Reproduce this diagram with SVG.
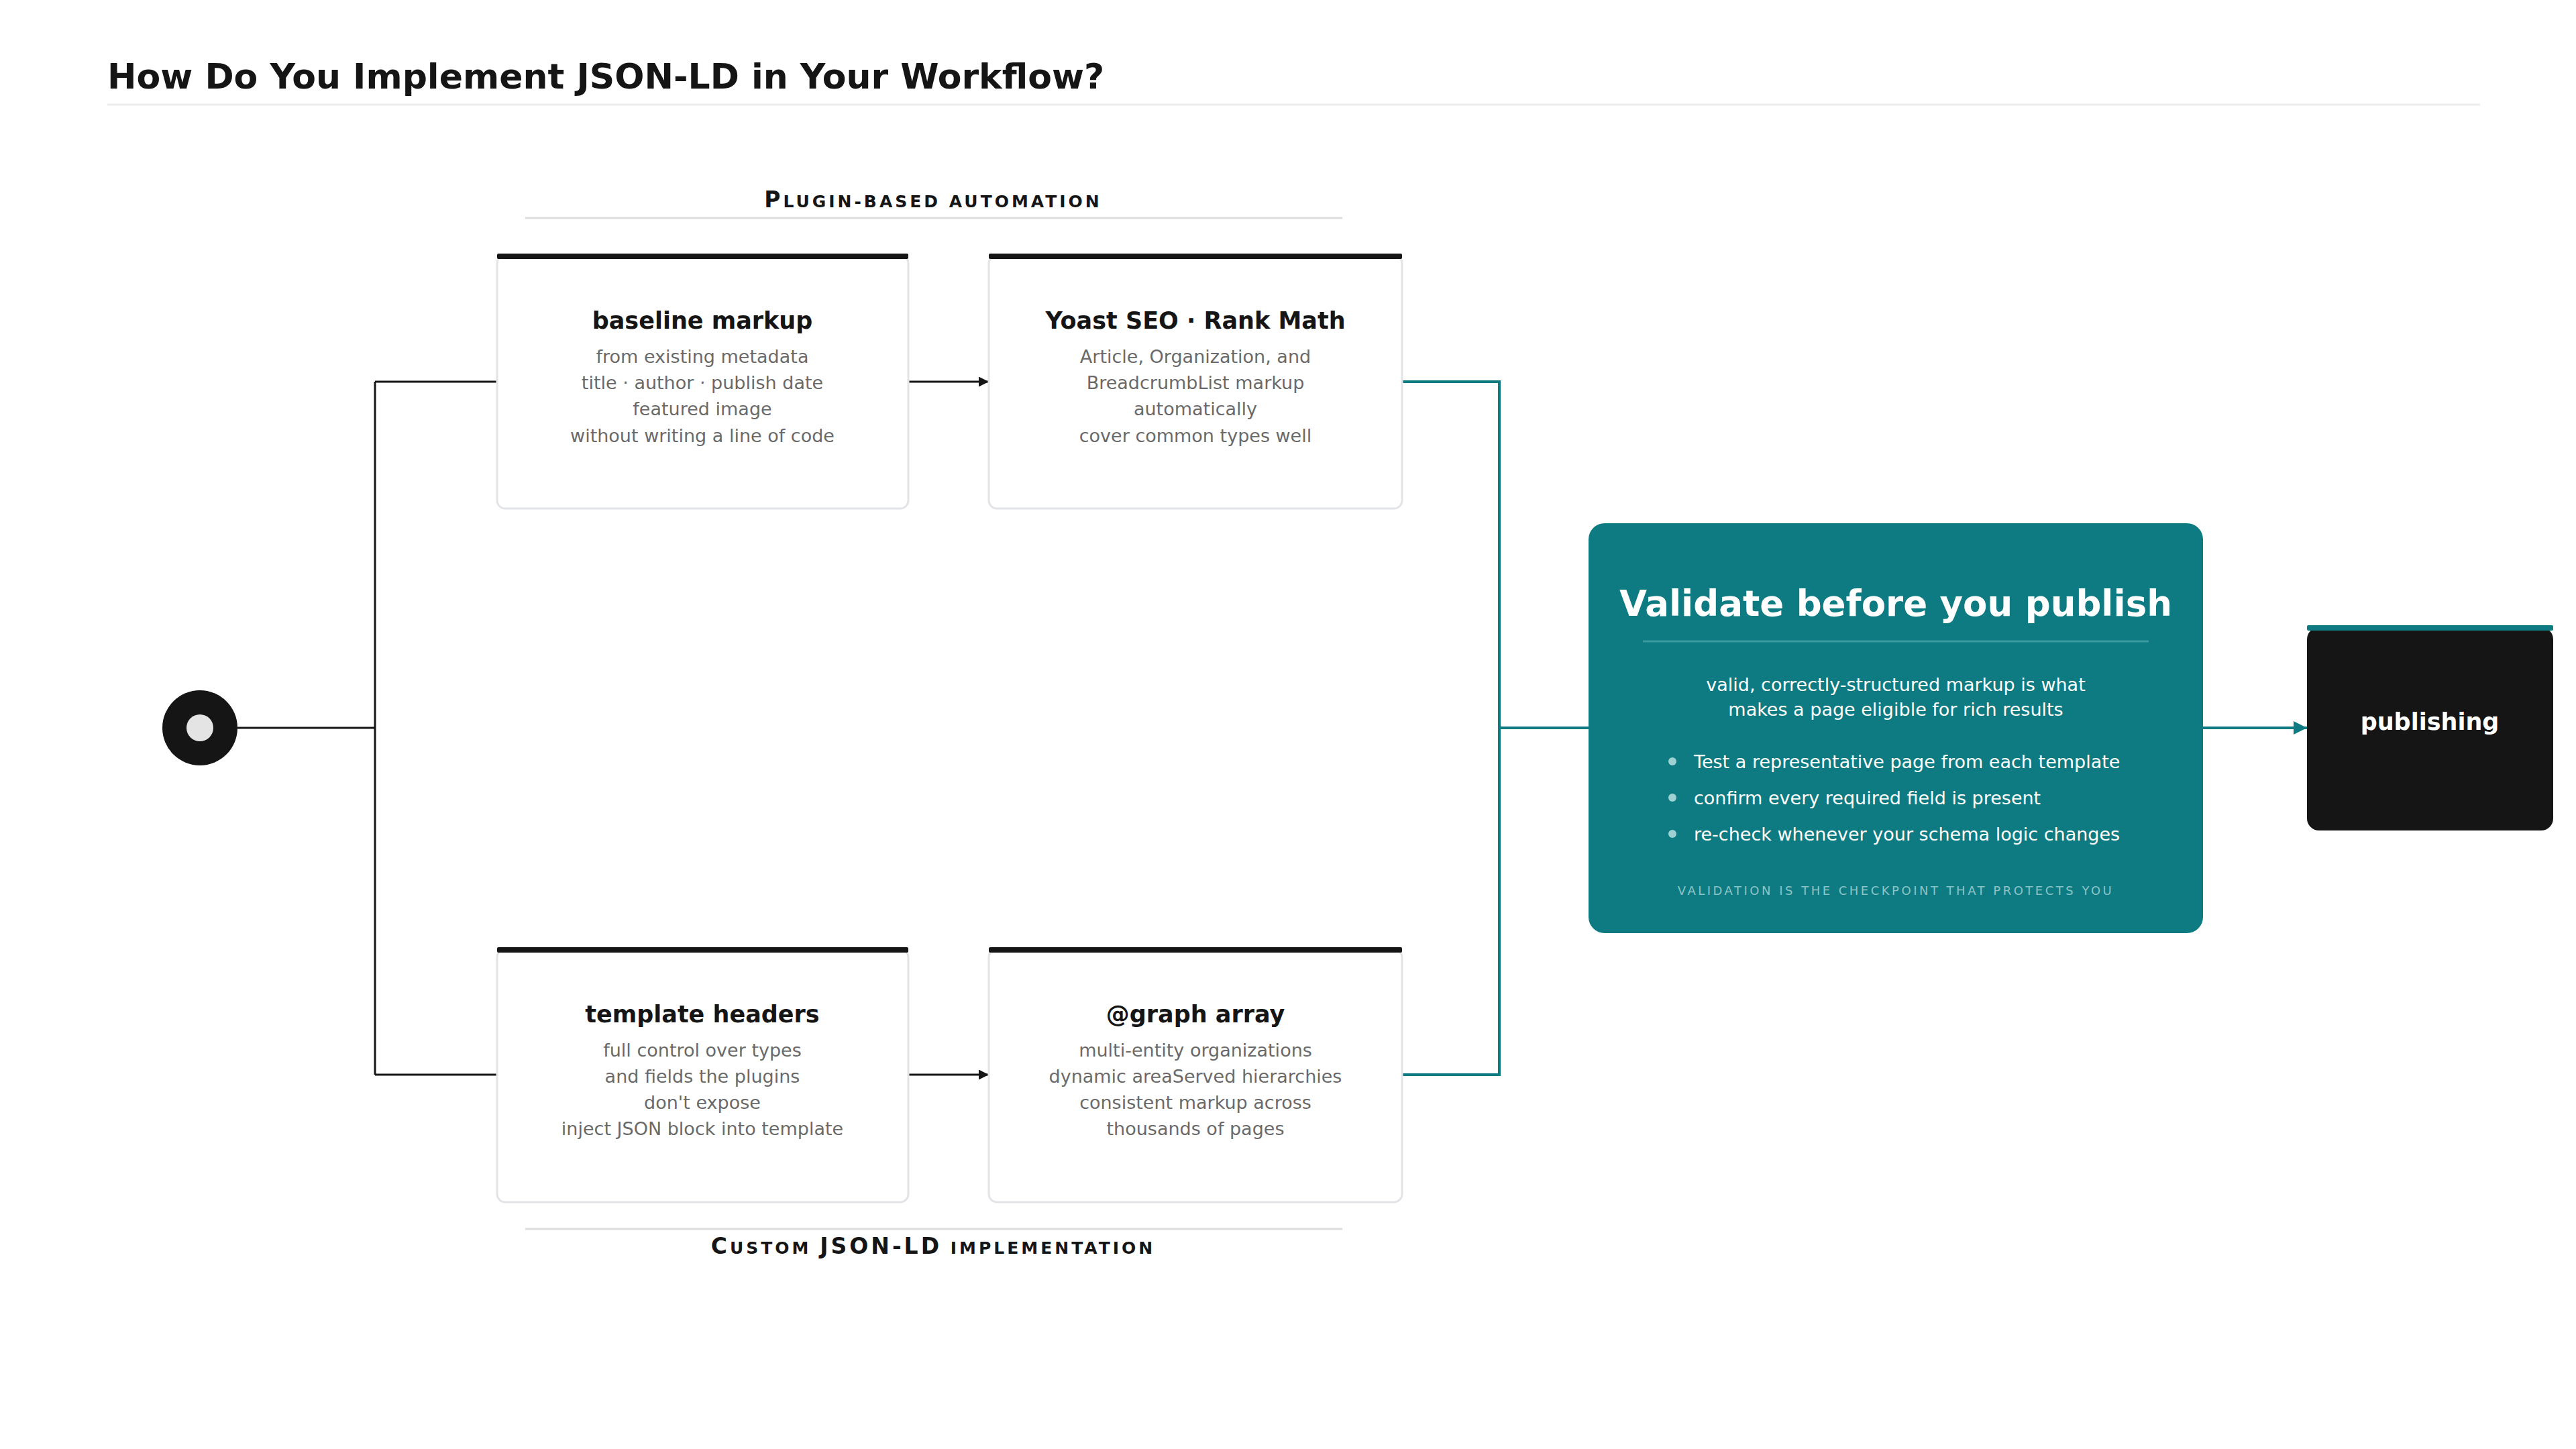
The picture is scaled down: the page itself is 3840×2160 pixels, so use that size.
<svg xmlns="http://www.w3.org/2000/svg" width="3840" height="2160" viewBox="0 0 3840 2160">
<style>
text{font-family:"DejaVu Sans","Noto Sans",sans-serif}
.card{fill:#fff;stroke:#e2e4e7;stroke-width:3}
.bar{fill:#151515}
.h{font-size:35px;font-weight:bold;fill:#151515;text-anchor:middle}
.b{font-size:27px;fill:#6a6a6a;text-anchor:middle}
.w{fill:#fff}
.k{fill:none;stroke:#151515;stroke-width:3}
.t{fill:none;stroke:#0e7b82;stroke-width:4}
.sec{font-size:33px;font-weight:bold;fill:#151515;text-anchor:middle;letter-spacing:4px}
</style>
<defs>
<marker id="ak" viewBox="0 0 10 10" refX="10" refY="5" markerWidth="5" markerHeight="5" orient="auto"><path d="M0 0L10 5L0 10z" fill="#151515"/></marker>
<marker id="at" viewBox="0 0 10 10" refX="10" refY="5" markerWidth="5" markerHeight="5" orient="auto"><path d="M0 0L10 5L0 10z" fill="#0e7b82"/></marker>
</defs>
<rect width="3840" height="2160" fill="#fff"/>
<text x="160" y="132" style="font-size:52px;font-weight:bold;fill:#151515">How Do You Implement JSON-LD in Your Workflow?</text>
<line x1="160" y1="156" x2="3697" y2="156" stroke="#ececec" stroke-width="3"/>
<text x="1391" y="309" class="sec">P<tspan style="font-size:25px">LUGIN-BASED AUTOMATION</tspan></text>
<line x1="783" y1="325" x2="2001" y2="325" stroke="#ddd" stroke-width="3"/>
<line x1="783" y1="1832" x2="2001" y2="1832" stroke="#ddd" stroke-width="3"/>
<text x="1391" y="1869" class="sec">C<tspan style="font-size:25px">USTOM </tspan>JSON-LD<tspan style="font-size:25px"> IMPLEMENTATION</tspan></text>
<g id="connectors">
<path class="k" d="M354 1085H559M559 569V1602M559 569H741M559 1602H741"/>
<path class="k" d="M1354 569H1474" marker-end="url(#ak)"/>
<path class="k" d="M1354 1602H1474" marker-end="url(#ak)"/>
<path class="t" d="M2090 569H2235V1602H2090M2235 1085H2368"/>
<path class="t" d="M3284 1085H3439" marker-end="url(#at)"/>
</g>
<g id="start"><circle cx="298" cy="1085" r="56" fill="#151515"/><circle cx="298" cy="1085" r="20" fill="#e4e4e4"/></g>
<g id="baseline">
<rect class="card" x="741" y="381" width="613" height="377" rx="12"/><rect class="bar" x="741" y="378" width="613" height="8" rx="2"/>
<text class="h" x="1047" y="490">baseline markup</text>
<text class="b" x="1047" y="541">from existing metadata</text><text class="b" x="1047" y="580">title · author · publish date</text><text class="b" x="1047" y="619">featured image</text><text class="b" x="1047" y="659">without writing a line of code</text>
</g>
<g id="yoast">
<rect class="card" x="1474" y="381" width="616" height="377" rx="12"/><rect class="bar" x="1474" y="378" width="616" height="8" rx="2"/>
<text class="h" x="1782" y="490">Yoast SEO · Rank Math</text>
<text class="b" x="1782" y="541">Article, Organization, and</text><text class="b" x="1782" y="580">BreadcrumbList markup</text><text class="b" x="1782" y="619">automatically</text><text class="b" x="1782" y="659">cover common types well</text>
</g>
<g id="template">
<rect class="card" x="741" y="1415" width="613" height="377" rx="12"/><rect class="bar" x="741" y="1412" width="613" height="8" rx="2"/>
<text class="h" x="1047" y="1524">template headers</text>
<text class="b" x="1047" y="1575">full control over types</text><text class="b" x="1047" y="1614">and fields the plugins</text><text class="b" x="1047" y="1653">don't expose</text><text class="b" x="1047" y="1692">inject JSON block into template</text>
</g>
<g id="graph">
<rect class="card" x="1474" y="1415" width="616" height="377" rx="12"/><rect class="bar" x="1474" y="1412" width="616" height="8" rx="2"/>
<text class="h" x="1782" y="1524">@graph array</text>
<text class="b" x="1782" y="1575">multi-entity organizations</text><text class="b" x="1782" y="1614">dynamic areaServed hierarchies</text><text class="b" x="1782" y="1653">consistent markup across</text><text class="b" x="1782" y="1692">thousands of pages</text>
</g>
<g id="validate">
<rect x="2368" y="780" width="916" height="611" rx="24" fill="#0e7b82"/>
<text x="2826" y="918" class="w" style="font-size:53px;font-weight:bold;text-anchor:middle">Validate before you publish</text>
<line x1="2449" y1="956" x2="3203" y2="956" stroke="#3a9aa0" stroke-width="3"/>
<text x="2826" y="1030" class="w" style="font-size:27px;text-anchor:middle">valid, correctly-structured markup is what</text>
<text x="2826" y="1067" class="w" style="font-size:27px;text-anchor:middle">makes a page eligible for rich results</text>
<g fill="#9fd0d2"><circle cx="2493" cy="1135" r="6"/><circle cx="2493" cy="1189" r="6"/><circle cx="2493" cy="1243" r="6"/></g>
<text x="2525" y="1145" class="w" style="font-size:27px">Test a representative page from each template</text>
<text x="2525" y="1199" class="w" style="font-size:27px">confirm every required field is present</text>
<text x="2525" y="1253" class="w" style="font-size:27px">re-check whenever your schema logic changes</text>
<text x="2826" y="1334" style="font-size:18px;fill:#8cc4c7;text-anchor:middle;letter-spacing:3.5px">VALIDATION IS THE CHECKPOINT THAT PROTECTS YOU</text>
</g>
<g id="publishing">
<rect x="3439" y="935" width="367" height="303" rx="18" fill="#151515"/>
<rect x="3439" y="932" width="367" height="8" rx="2" fill="#0e7b82"/>
<text x="3622" y="1088" class="w" style="font-size:35px;font-weight:bold;text-anchor:middle">publishing</text>
</g>
</svg>
